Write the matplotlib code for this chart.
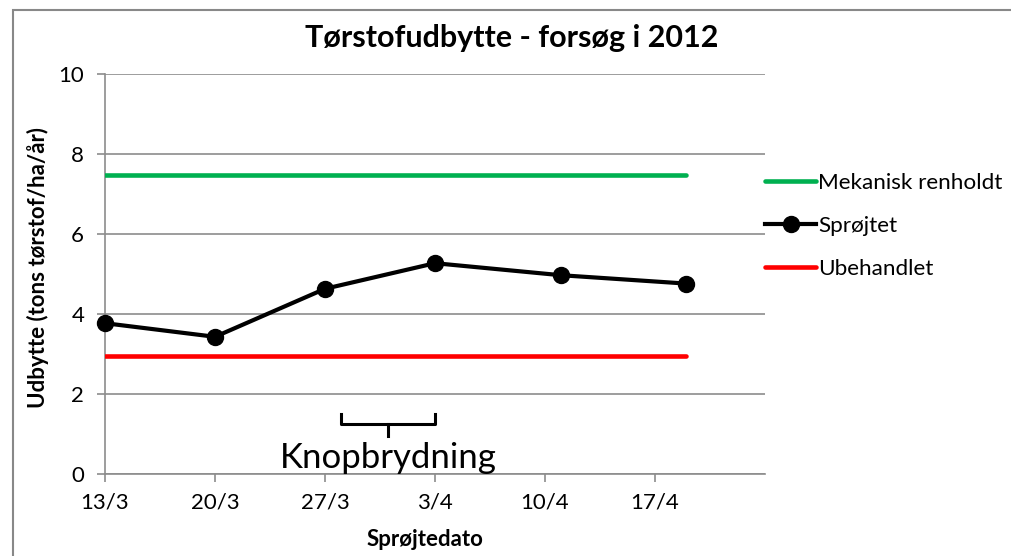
import matplotlib
matplotlib.use("Agg")
import matplotlib.pyplot as plt
import matplotlib.dates as mdates
from matplotlib.patches import Rectangle
from matplotlib.ticker import FuncFormatter, MultipleLocator
from datetime import date, timedelta

plt.rcParams["font.family"] = ["Lato", "DejaVu Sans"]

# data (tons dry matter / ha / year)
spray_dates = [date(2012, 3, 13), date(2012, 3, 20), date(2012, 3, 27),
               date(2012, 4, 3), date(2012, 4, 11), date(2012, 4, 19)]
sproejtet = [3.77, 3.43, 4.63, 5.27, 4.97, 4.76]
mekanisk = [7.47] * len(spray_dates)
ubehandlet = [2.96] * len(spray_dates)

series_names = ["Mekanisk renholdt", "Sprøjtet", "Ubehandlet"]
x_min = date(2012, 3, 13)
x_max = date(2012, 4, 24)

# bracket marking bud break (Knopbrydning)
bracket_start = date(2012, 3, 28)
bracket_end = date(2012, 4, 3)
bracket_mid = date(2012, 3, 31)

GRID = "#8c8c8c"

fig = plt.figure(figsize=(10.11, 5.56), dpi=100)

# outer chart border (only top and left edges fall inside the picture)
fig.patches.append(Rectangle((12.5 / 1011, -0.05), 1.0, 1.05 - 10 / 556,
                             transform=fig.transFigure, fill=False,
                             edgecolor="#888888", linewidth=1.5))

ax = fig.add_axes([105 / 1011, 82 / 556, 660 / 1011, 400 / 556])

ax.plot(spray_dates, mekanisk, color="#00b050", linewidth=3.3,
        solid_capstyle="round", label=series_names[0], zorder=3)
ax.plot(spray_dates, sproejtet, color="black", linewidth=3.0, marker="o",
        markersize=11.5, label=series_names[1], zorder=4, clip_on=False)
ax.plot(spray_dates, ubehandlet, color="#ff0000", linewidth=3.3,
        solid_capstyle="round", label=series_names[2], zorder=3)

ax.set_xlim(x_min, x_max)
ax.set_ylim(0, 10)
ax.yaxis.set_major_locator(MultipleLocator(2))
ticks = [x_min + timedelta(days=7 * i) for i in range(6)]
ax.set_xticks(ticks)
ax.xaxis.set_major_formatter(FuncFormatter(
    lambda v, pos: f"{mdates.num2date(v).day}/{mdates.num2date(v).month}"))

ax.grid(axis="y", color=GRID, linewidth=1.2)
ax.set_axisbelow(True)
for side in ["top", "right"]:
    ax.spines[side].set_visible(False)
ax.spines["left"].set_color(GRID)
ax.spines["bottom"].set_color(GRID)
ax.spines["left"].set_linewidth(1.2)
ax.spines["bottom"].set_linewidth(1.2)
ax.tick_params(axis="both", colors=GRID, labelcolor="black", labelsize=16,
               length=6, width=1.2, direction="out")
ax.tick_params(axis="y", pad=9)
ax.tick_params(axis="x", pad=7)

fig.text(512 / 1011, 1 - 38 / 556, "Tørstofudbytte - forsøg i 2012",
         fontsize=22, fontweight="bold", ha="center", va="center")
fig.text(38 / 1011, 1 - 268 / 556, "Udbytte (tons tørstof/ha/år)",
         fontsize=16, fontweight="bold", rotation=90, ha="center", va="center")
fig.text(425 / 1011, 1 - 540 / 556, "Sprøjtedato",
         fontsize=16, fontweight="bold", ha="center", va="center")

# bud break bracket + label
bk = "black"
ax.plot([bracket_start, bracket_start, bracket_end, bracket_end],
        [1.5, 1.25, 1.25, 1.5], color=bk, linewidth=2.2, clip_on=False)
ax.plot([bracket_mid, bracket_mid], [1.25, 0.95], color=bk, linewidth=2.2)
ax.text(bracket_mid, 0.4, "Knopbrydning", ha="center", va="center", fontsize=25)

leg = ax.legend(loc="upper left", bbox_to_anchor=(0.987, 0.775), frameon=False,
                fontsize=16.2, handlelength=2.25, handletextpad=0.1, labelspacing=1.02,
                borderaxespad=0)

fig.savefig("out.png", dpi=100)
